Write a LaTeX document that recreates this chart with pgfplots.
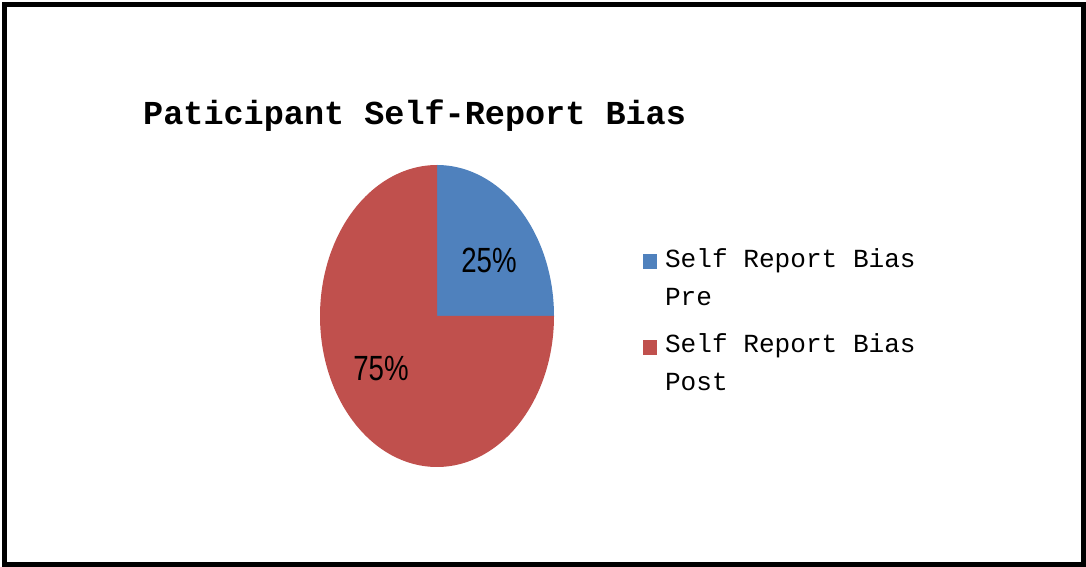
\documentclass[border=0pt]{standalone}
\usepackage{pgfplots}
\usepackage{pgfplotstable}
\pgfplotsset{compat=1.18}
\usepackage{fontspec}
\setmainfont{Liberation Mono}
\newfontfamily\titlefont{Liberation Mono}
\newfontfamily\pctfont[FakeStretch=0.79]{Liberation Sans}
\definecolor{pieblue}{HTML}{4F81BD}
\definecolor{piered}{HTML}{C0504D}
\pgfplotstableread{
label value
Pre 25
Post 75
}\piedata
\pgfplotstablegetelem{0}{value}\of\piedata\let\vPre\pgfplotsretval%
\pgfplotstablegetelem{1}{value}\of\piedata\let\vPost\pgfplotsretval%
\pgfmathsetmacro\aA{90-3.6*\vPre}%
\pgfmathsetmacro\aB{\aA-3.6*\vPost}%
\pgfmathsetmacro\cA{cos(\aA)}%
\pgfmathsetmacro\sA{sin(\aA)}%
\begin{document}%
\begin{tikzpicture}
\draw[line width=5pt] (4.5pt,2.5pt) rectangle (1083.5pt,562.5pt);
\path[use as bounding box] (0pt,0pt) rectangle (1086pt,567pt);
\node[anchor=base west, inner sep=0pt, font={\titlefont\bfseries\fontsize{33.5}{40}\selectfont}] at (143pt,442pt) {Paticipant Self-Report Bias};
\begin{axis}[
  at={(320pt,100pt)}, anchor=south west,
  scale only axis, width=234pt, height=302pt,
  xmin=-1, xmax=1, ymin=-1, ymax=1,
  hide axis, clip=false,
  legend style={at={(1.367,0.7317)}, anchor=north west, draw=none, fill=none,
    font={\fontsize{26.1}{38}\selectfont}, row sep=27pt, column sep=8pt,
    nodes={align=left, inner sep=0pt}},
  legend cell align=left,
  legend image code/.code={\fill[#1] (0pt,8pt) rectangle (14pt,23pt);},
]
\addplot[fill=pieblue, draw=none] coordinates {(0,0) (0,1)}
  arc[start angle=90, end angle=\aA, x radius=117pt, y radius=151pt] -- cycle;
\addlegendentry{Self Report Bias\\Pre}
\addplot[fill=piered, draw=none] coordinates {(0,0) (\cA,\sA)}
  arc[start angle=\aA, end angle=\aB, x radius=117pt, y radius=151pt] -- cycle;
\addlegendentry{Self Report Bias\\Post}
\node[font={\pctfont\fontsize{35}{40}\selectfont}, inner sep=0pt] at (axis cs:0.444,0.371) {25\%};
\node[font={\pctfont\fontsize{35}{40}\selectfont}, inner sep=0pt] at (axis cs:-0.479,-0.351) {75\%};
\end{axis}
\end{tikzpicture}%
\end{document}
